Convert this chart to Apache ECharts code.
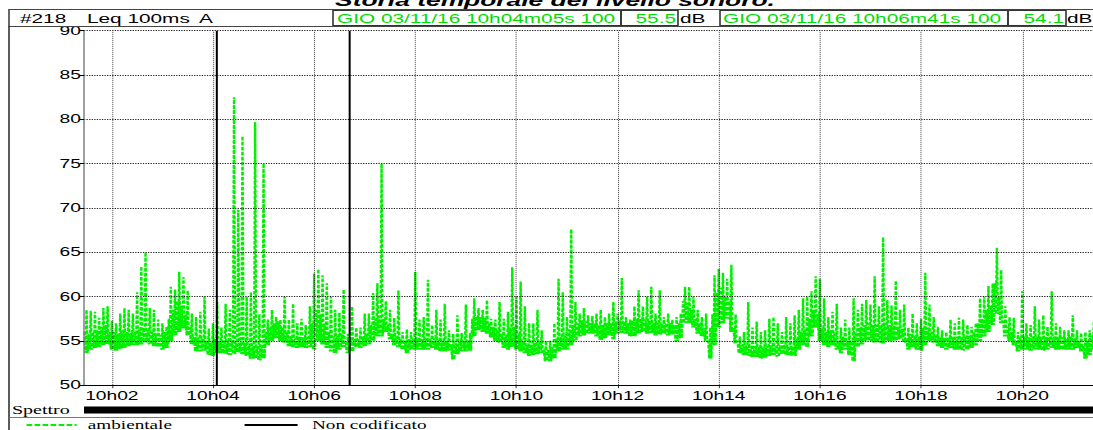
<!DOCTYPE html>
<html><head><meta charset="utf-8">
<script src="https://cdn.jsdelivr.net/npm/echarts@6/dist/echarts.min.js"></script>
<style>
html,body{margin:0;padding:0;background:#fff;overflow:hidden;width:1093px;height:430px}
#wrap{width:1093px;height:430px;overflow:hidden;position:relative}
#chart{width:683px;height:430px;transform:scaleX(1.60029);transform-origin:0 0;}
</style></head><body><div id="wrap"><div id="chart"></div></div>
<script>
// ---- data (seconds after 10h00, 5 s bins, dB(A)) ----
// hi: highest level in the bin (peaks), mid: top of the dense band, lo: lowest level in the bin
const startSec = 87;
const binSec = 5;
const hi = [
58.5,58.4,58.3,57.6,58.7,58.9,57.3,57.0,58.1,58.7,
58.5,58.1,60.5,63.4,65.0,58.7,58.5,57.4,57.0,56.6,
61.1,60.8,62.8,62.2,60.7,58.1,57.7,58.3,60.0,56.4,
57.0,59.4,56.5,59.2,58.5,82.5,69.8,78.1,60.0,60.5,
79.7,58.0,75.0,57.4,58.5,57.7,57.4,60.0,57.4,59.2,
57.0,57.5,56.8,58.9,62.6,63.1,62.4,61.5,60.0,58.5,
58.2,60.8,55.8,58.9,56.5,56.5,58.1,58.1,60.4,61.5,
75.0,59.5,58.5,57.6,60.7,56.0,56.3,56.0,62.8,57.4,
57.7,61.9,56.8,58.5,57.4,59.2,56.2,55.8,57.9,55.9,
59.1,55.9,59.8,58.7,58.5,59.6,57.5,57.4,59.4,57.5,
58.3,63.3,60.0,61.7,58.9,57.0,57.0,58.5,56.2,55.0,
55.0,57.0,62.0,60.5,57.7,67.6,59.4,58.1,58.7,57.9,
57.8,58.1,58.5,57.7,58.1,59.4,58.1,62.1,57.7,57.4,
58.9,60.7,58.9,60.0,61.1,58.1,60.7,57.7,58.1,57.4,
57.7,58.1,61.1,61.1,60.0,58.5,57.7,58.1,56.5,62.4,
63.1,62.7,62.0,63.6,58.0,55.5,56.0,59.4,56.5,57.2,
56.0,56.2,57.5,57.7,57.0,56.0,57.7,57.0,57.9,58.5,
59.8,60.0,60.6,62.3,62.0,59.8,57.7,58.3,59.2,56.5,
57.4,56.5,59.8,58.5,59.2,59.6,59.1,62.3,58.9,66.7,
59.6,59.0,61.8,58.5,59.1,56.5,58.1,57.0,57.5,62.7,
59.1,57.7,56.6,56.2,56.0,57.4,57.0,57.6,57.4,56.8,
56.6,57.0,59.8,60.0,61.2,61.5,65.5,63.0,58.9,57.7,
57.6,56.0,60.6,57.0,56.8,58.9,57.4,57.9,56.6,60.6,
57.0,56.6,56.2,56.2,57.9,56.2,55.9,56.0,56.2,57.2
];
const mid = [
56.0,55.8,56.0,56.2,56.6,56.8,56.0,56.0,55.8,56.2,
56.0,55.9,56.0,56.3,56.5,56.2,56.0,55.8,55.7,56.0,
57.5,58.5,59.5,59.0,58.0,56.5,55.5,55.4,55.3,55.0,
54.8,55.2,55.0,55.0,54.9,55.0,54.8,54.8,54.7,54.5,
54.4,54.3,54.5,56.0,56.6,57.0,57.2,56.6,56.0,55.5,
55.3,55.5,55.4,55.4,57.0,58.5,58.0,57.0,56.0,55.5,
55.6,55.8,54.8,55.3,55.2,55.2,55.5,55.8,56.8,57.5,
57.8,57.5,56.8,55.8,55.5,55.2,55.0,55.2,55.3,55.3,
55.2,55.3,55.2,55.3,55.1,55.0,55.0,54.6,54.8,55.0,
55.0,55.0,57.5,57.8,57.7,57.6,57.0,56.6,56.3,55.8,
55.6,56.5,56.6,55.8,55.0,54.6,54.6,54.8,54.8,54.0,
54.0,54.3,55.3,55.5,55.6,56.3,56.8,57.0,57.3,57.2,
57.0,57.0,56.8,56.8,57.0,57.0,57.2,57.3,57.2,57.0,
57.3,57.5,57.5,57.4,57.3,57.0,57.0,57.0,57.0,57.0,
56.8,57.0,59.5,59.3,58.5,57.5,57.0,56.5,55.0,58.0,
60.5,61.0,60.0,59.5,56.5,54.6,54.6,54.5,54.4,54.4,
54.3,54.3,54.4,54.5,54.4,54.5,54.6,54.4,54.4,55.3,
56.0,56.3,57.5,58.5,58.0,56.5,56.0,56.2,56.0,55.0,
55.5,55.0,55.0,56.0,56.5,56.8,57.0,56.8,56.8,56.8,
57.0,56.8,56.7,56.6,56.4,55.3,55.8,55.6,55.5,56.5,
56.5,56.0,55.6,55.4,55.3,55.4,55.4,55.5,55.4,55.5,
55.6,56.0,57.0,57.5,58.5,59.0,61.5,60.0,57.3,56.6,
56.0,54.8,55.4,55.5,55.4,55.5,55.5,55.4,55.4,55.5,
55.5,55.4,55.4,55.3,55.5,55.3,55.0,54.5,55.0,55.6
];
const lo = [
53.6,54.0,54.2,54.3,54.5,54.6,54.0,53.9,54.1,54.2,
54.4,54.5,54.5,54.6,54.8,54.6,54.4,54.3,54.0,54.2,
55.0,55.6,56.0,56.4,55.6,54.6,53.8,53.8,53.9,53.4,
53.3,53.6,53.6,53.5,53.4,53.5,53.7,53.5,53.3,53.0,
53.0,52.8,53.0,54.5,55.0,55.3,55.0,54.8,54.4,54.3,
54.2,54.3,54.2,54.3,54.0,55.0,54.6,54.2,53.8,53.6,
54.0,54.3,53.6,53.8,54.3,54.2,54.4,54.6,55.0,55.5,
55.5,56.0,55.2,54.5,54.3,54.0,53.6,54.0,54.0,54.0,
54.0,54.0,54.2,54.0,53.8,53.8,53.9,52.9,53.5,53.8,
53.8,53.9,55.5,56.2,56.0,55.8,55.4,55.0,54.8,54.2,
54.0,54.3,54.0,53.8,53.6,53.3,53.4,53.5,53.6,52.7,
52.7,53.0,53.8,54.0,54.0,54.5,55.0,55.5,55.6,55.8,
55.8,55.5,55.1,55.3,55.6,55.2,55.8,55.9,55.8,55.5,
55.5,55.8,56.0,55.8,55.9,55.6,55.7,55.8,55.6,55.7,
54.9,55.3,57.0,57.0,56.5,55.8,55.5,55.0,53.0,54.5,
56.5,57.0,57.5,56.0,54.7,53.6,53.4,53.3,53.2,53.2,
53.0,53.1,53.3,53.4,53.2,53.5,53.4,53.3,53.3,54.0,
54.5,54.3,55.5,56.5,55.0,54.5,54.3,54.5,54.0,53.6,
54.0,53.4,52.7,54.3,54.6,55.0,55.0,54.8,54.8,54.7,
55.0,55.0,55.0,55.2,54.8,54.0,54.3,54.0,53.9,54.5,
55.0,54.8,54.4,54.2,54.0,54.2,54.0,54.0,53.9,54.0,
54.2,54.5,55.0,55.5,56.0,56.8,58.0,57.0,55.5,55.0,
54.5,53.8,54.0,54.0,53.9,54.0,54.0,53.9,54.0,54.2,
54.0,54.0,54.0,54.0,54.0,54.2,53.8,53.0,53.4,54.0
];
const xTickSeconds = [120,240,360,480,600,720,840,960,1080,1200];
const xTickLabels = ['10h02','10h04','10h06','10h08','10h10','10h12','10h14','10h16','10h18','10h20'];
const cursorSeconds = [245, 401];          // 10h04m05s, 10h06m41s
const cursorLabels = ['GIO 03/11/16 10h04m05s 100','GIO 03/11/16 10h06m41s 100'];
const cursorLevels = ['55.5','54.1'];
const axisMinSec = 87, axisMaxSec = 1284;
const yMin = 50, yMax = 90, yStep = 5;

// ---- build ----
const S = 1093 / 683;          // horizontal stretch of the original print
const X = v => v / S;
const pts = [];
for (let i = 0; i < hi.length; i++) {
  const t = startSec + i * binSec;
  pts.push([t + 0.6, mid[i]]);
  pts.push([t + 1.8, lo[i]]);
  pts.push([t + 3.0, hi[i]]);
  pts.push([t + 4.2, lo[i]]);
}
const SANS = '"Liberation Sans", Arial, sans-serif';
const SERIF = '"Liberation Serif", "Times New Roman", serif';
const GREEN = '#00f000';

const chart = echarts.init(document.getElementById('chart'), null, {renderer: 'svg'});
const txt = (x, y, text, opt) => Object.assign({
  type: 'text', x: X(x), y: y, z: 20,
  style: Object.assign({text: text, font: '13px ' + SANS, fill: '#000', textAlign: 'left', textVerticalAlign: 'middle', align: 'left', verticalAlign: 'middle'}, opt || {})
});
const box = (x, y, w, h, stroke) => ({type: 'rect', z: 15, shape: {x: X(x), y: y, width: X(w), height: h},
  style: {fill: 'none', stroke: stroke || '#333', lineWidth: 1}});

chart.setOption({
  animation: false,
  backgroundColor: '#fff',
  grid: {left: X(84), right: 0, top: 30.7, bottom: 44.8, containLabel: false},
  xAxis: {
    type: 'value', min: axisMinSec, max: axisMaxSec, z: 5,
    axisLine: {show: true, lineStyle: {color: '#000', width: 1}},
    axisTick: {show: true, customValues: xTickSeconds, length: 3, lineStyle: {color: '#000', width: 1 / S}},
    axisLabel: {show: true, customValues: xTickSeconds, margin: 5, color: '#000', fontFamily: SANS, fontSize: 12,
      formatter: v => xTickLabels[xTickSeconds.indexOf(v)] || ''},
    splitLine: {show: false}
  },
  yAxis: {
    type: 'value', min: yMin, max: yMax, interval: yStep, z: 5,
    axisLine: {show: true, lineStyle: {color: '#777', width: 1.4 / S}},
    axisTick: {show: true, length: 2.5, lineStyle: {color: '#000', width: 1}},
    axisLabel: {color: '#000', fontFamily: SANS, fontSize: 12, margin: 2},
    splitLine: {show: true, lineStyle: {color: '#222', width: 1, type: [0.8, 0.8]}}
  },
  legend: [
    {data: ['ambientale'], left: X(25), top: 419, itemWidth: X(50), itemHeight: 12, padding: 0,
      itemStyle: {opacity: 0},
      textStyle: {fontFamily: SERIF, fontSize: 12, lineHeight: 11, color: '#000', padding: [0, 0, 0, 2]}},
    {data: ['Non codificato'], left: X(243), top: 419, itemWidth: X(53), itemHeight: 12, padding: 0,
      itemStyle: {opacity: 0},
      textStyle: {fontFamily: SERIF, fontSize: 12, lineHeight: 11, color: '#000', padding: [0, 0, 0, 4]}}
  ],
  series: [
    {
      name: 'ambientale', type: 'line', data: pts, symbol: 'none', showSymbol: false, z: 2,
      lineStyle: {color: GREEN, width: 1.5, type: [3.5, 1.5]}, itemStyle: {color: GREEN}
    },
    {
      name: 'grid', type: 'line', data: [], symbol: 'none', z: 4, silent: true,
      markLine: {silent: true, symbol: 'none', label: {show: false}, animation: false,
        lineStyle: {color: '#111', width: 1 / S, type: [1, 1]},
        data: xTickSeconds.map(v => ({xAxis: v}))}
    },
    {
      name: 'Non codificato', type: 'line', data: [], symbol: 'none', z: 4,
      lineStyle: {color: '#000', width: 1.2, type: 'solid'}, itemStyle: {color: '#000'},
      markLine: {silent: true, symbol: 'none', label: {show: false}, animation: false,
        lineStyle: {color: '#000', width: 2 / S, type: 'solid'},
        data: cursorSeconds.map(v => ({xAxis: v}))}
    }
  ],
  graphic: [
    txt(555, 9, 'Storia temporale del livello sonoro.', {font: 'italic bold 16.5px ' + SANS, textAlign: 'center', align: 'center', textVerticalAlign: 'bottom', verticalAlign: 'bottom'}),
    box(9, 9.5, 1090, 17, '#444'),
    box(333, 10.5, 288, 15),
    box(621, 10.5, 57, 15),
    box(720, 10.5, 288, 15),
    box(1008, 10.5, 58, 15),
    txt(20, 18.5, '#218'),
    txt(87, 18.5, 'Leq 100ms'),
    txt(199, 18.5, 'A'),
    txt(337, 18.5, cursorLabels[0], {fill: '#00dd00'}),
    txt(676, 18.5, cursorLevels[0], {fill: '#00dd00', textAlign: 'right', align: 'right'}),
    txt(680, 18.5, 'dB'),
    txt(723, 18.5, cursorLabels[1], {fill: '#00dd00'}),
    txt(1064, 18.5, cursorLevels[1], {fill: '#00dd00', textAlign: 'right', align: 'right'}),
    txt(1067, 18.5, 'dB'),
    {type: 'line', z: 15, shape: {x1: X(9), y1: 26, x2: X(9), y2: 430}, style: {stroke: '#333', lineWidth: 1}},
    txt(12, 410, 'Spettro', {font: '12.5px ' + SERIF}),
    {type: 'rect', z: 15, shape: {x: X(84), y: 406.5, width: X(1093 - 84), height: 7}, style: {fill: '#000'}},
    {type: 'line', z: 15, shape: {x1: X(9), y1: 417.5, x2: X(1093), y2: 417.5}, style: {stroke: '#777', lineWidth: 1}}
  ]
});
</script>
</body></html>
